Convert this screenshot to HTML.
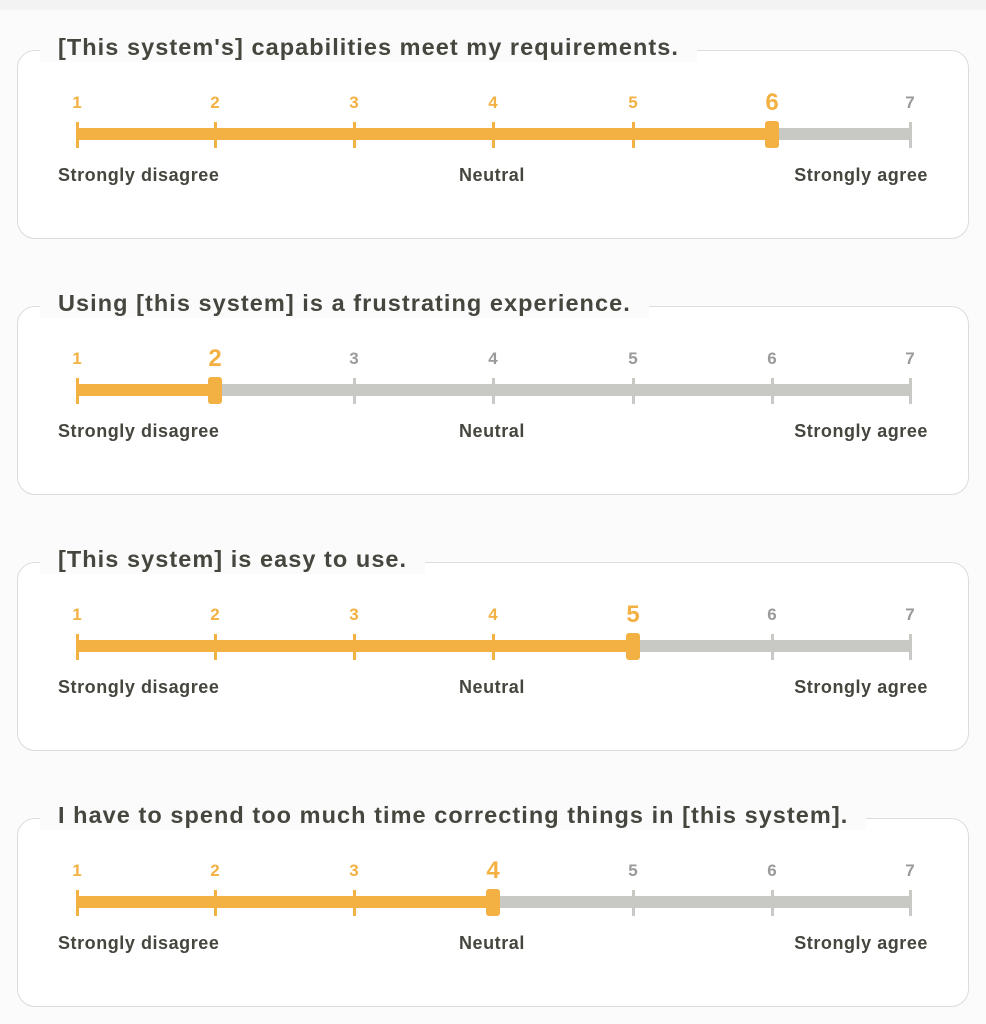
<!DOCTYPE html>
<html><head><style>
body{margin:0;width:986px;height:1024px;background:#fbfbfb;font-family:"Liberation Sans",sans-serif;position:relative;overflow:hidden}
.top{position:absolute;left:0;top:0;width:986px;height:10px;background:#f3f3f3}
.box{position:absolute;left:17px;width:950px;height:187px;border:1.5px solid #dcdcdc;border-radius:18px;background:#fff}
.title{position:absolute;left:22px;top:-19px;padding:0 18px;background:#fbfbfb;font-size:23.5px;letter-spacing:1.05px;font-weight:bold;color:#45463e;white-space:nowrap;line-height:30px}
.n{position:absolute;top:42px;width:30px;margin-left:-15px;text-align:center;font-size:17px;font-weight:bold;color:#f4b143}
.n.g{color:#9a9a9a}.n.s{font-size:24px;top:38px}
.bar{position:absolute;top:77px;height:12px}
.t{position:absolute;top:71px;width:3px;height:26px;margin-left:-1.5px}
.h{position:absolute;top:70px;width:14px;height:27px;margin-left:-7px;border-radius:3px;background:#f4b143}
.l{position:absolute;top:114px;font-size:18px;letter-spacing:0.55px;font-weight:bold;color:#45463e;white-space:nowrap}
</style></head><body>
<div class="top"></div>
<div id="c"></div>
<script>
const qs=[["[This system's] capabilities meet my requirements.",6],["Using [this system] is a frustrating experience.",2],["[This system] is easy to use.",5],["I have to spend too much time correcting things in [this system].",4]];
const xs=[76,214,353,492,632,771,909];let h='';
qs.forEach((q,i)=>{const top=50+i*256,v=q[1],sx=xs[v-1]-17;
h+=`<div class="box" style="top:${top}px"><div class="title">${q[0]}</div>`;
h+=`<div class="bar" style="left:${xs[0]-17}px;width:${sx-(xs[0]-17)}px;background:#f4b143"></div>`;
h+=`<div class="bar" style="left:${sx}px;width:${xs[6]-17-sx}px;background:#c8c8c4"></div>`;
xs.forEach((x,k)=>{const on=k+1<=v;h+=`<div class="n ${k+1==v?'s':''} ${on?'':'g'}" style="left:${x-17}px">${k+1}</div>`;
if(k+1!=v)h+=`<div class="t" style="left:${x-17}px;background:${on?'#f4b143':'#c8c8c4'}"></div>`;});
h+=`<div class="h" style="left:${sx}px"></div>`;
h+=`<div class="l" style="left:40px">Strongly disagree</div><div class="l" style="left:441px">Neutral</div><div class="l" style="right:40px">Strongly agree</div></div>`;});
document.getElementById('c').innerHTML=h;
</script>
</body></html>
